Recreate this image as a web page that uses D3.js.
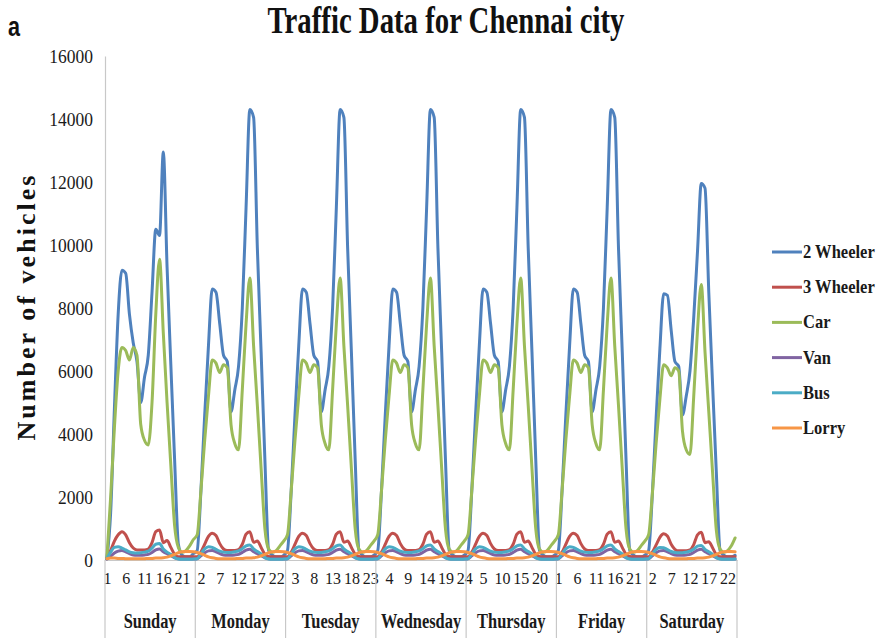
<!DOCTYPE html>
<html>
<head>
<meta charset="utf-8">
<script src="https://cdn.jsdelivr.net/npm/d3@7/dist/d3.min.js"></script>
<style>
	body { margin: 0; background: #fff; }
	svg { display: block; }
</style>
</head>
<body>
<div class="chart"></div>
<script>
// TRAFFIC DATA FOR CHENNAI CITY - hourly counts over one week

const days = ['Sunday', 'Monday', 'Tuesday', 'Wednesday', 'Thursday', 'Friday', 'Saturday'];
const hoursOfDay = [1, 2, 3, 4, 5, 6, 7, 8, 9, 10, 11, 12, 13, 14, 15, 16, 17, 18, 19, 20, 21, 22, 23, 24];
const seriesNames = ['2 Wheeler', '3 Wheeler', 'Car', 'Van', 'Bus', 'Lorry'];
const seriesColors = ['#4f81bd', '#c0504d', '#9bbb59', '#8064a2', '#4bacc6', '#f79646'];
const yTicks = [0, 2000, 4000, 6000, 8000, 10000, 12000, 14000, 16000];

// one row per day (Sunday .. Saturday), 24 hourly values each
const twoWheeler = [
	50, 1500, 4800, 7800, 9200, 9100, 7800, 6900, 6300, 5000, 5800, 6500, 8500, 10500, 10300, 12950, 9300, 6200, 3200, 500, 150, 100, 100, 200,
	300, 2200, 4600, 6800, 8600, 8500, 7500, 6500, 6300, 4700, 5400, 6150, 8000, 11200, 14300, 14050, 9900, 6600, 3200, 300, 150, 100, 100, 150,
	300, 2200, 4600, 6800, 8600, 8500, 7500, 6500, 6300, 4700, 5400, 6150, 8000, 11200, 14300, 14050, 9900, 6600, 3200, 300, 150, 100, 100, 150,
	300, 2200, 4600, 6800, 8600, 8500, 7500, 6500, 6300, 4700, 5400, 6150, 8000, 11200, 14300, 14050, 9900, 6600, 3200, 300, 150, 100, 100, 150,
	300, 2200, 4600, 6800, 8600, 8500, 7500, 6500, 6300, 4700, 5400, 6150, 8000, 11200, 14300, 14050, 9900, 6600, 3200, 300, 150, 100, 100, 150,
	300, 2200, 4600, 6800, 8600, 8500, 7500, 6500, 6300, 4700, 5400, 6150, 8000, 11200, 14300, 14050, 9900, 6600, 3200, 300, 150, 100, 100, 150,
	300, 2100, 4500, 6700, 8450, 8400, 7300, 6300, 6150, 4600, 5200, 6000, 7700, 9800, 11950, 11800, 8500, 5600, 2800, 300, 150, 100, 100, 150
];
const threeWheeler = [
	50, 300, 600, 800, 900, 800, 550, 380, 320, 320, 320, 350, 550, 900, 950, 550, 620, 400, 180, 100, 100, 100, 100, 100,
	100, 250, 500, 750, 850, 780, 520, 350, 300, 300, 300, 330, 500, 820, 900, 560, 600, 400, 180, 110, 100, 100, 100, 100,
	100, 250, 500, 750, 850, 780, 520, 350, 300, 300, 300, 330, 500, 820, 900, 560, 600, 400, 180, 110, 100, 100, 100, 100,
	100, 250, 500, 750, 850, 780, 520, 350, 300, 300, 300, 330, 500, 820, 900, 560, 600, 400, 180, 110, 100, 100, 100, 100,
	100, 250, 500, 750, 850, 780, 520, 350, 300, 300, 300, 330, 500, 820, 900, 560, 600, 400, 180, 110, 100, 100, 100, 100,
	100, 250, 500, 750, 850, 780, 520, 350, 300, 300, 300, 330, 500, 820, 900, 560, 600, 400, 180, 110, 100, 100, 100, 100,
	100, 250, 480, 720, 830, 760, 500, 340, 290, 290, 290, 320, 490, 800, 880, 550, 580, 390, 170, 100, 100, 100, 100, 100
];
const car = [
	50, 2000, 4200, 6000, 6750, 6650, 6350, 6750, 6500, 4300, 3800, 3650, 5000, 7800, 9550, 7200, 5000, 3000, 1100, 400, 250, 300, 450, 650,
	800, 2200, 3800, 5200, 6350, 6250, 5950, 6200, 6100, 4300, 3700, 3500, 5400, 7500, 8950, 6800, 4900, 2900, 1000, 350, 250, 300, 450, 600,
	800, 2200, 3800, 5200, 6350, 6250, 5950, 6200, 6100, 4300, 3700, 3500, 5400, 7500, 8950, 6800, 4900, 2900, 1000, 350, 250, 300, 450, 600,
	800, 2200, 3800, 5200, 6350, 6250, 5950, 6200, 6100, 4300, 3700, 3500, 5400, 7500, 8950, 6800, 4900, 2900, 1000, 350, 250, 300, 450, 600,
	800, 2200, 3800, 5200, 6350, 6250, 5950, 6200, 6100, 4300, 3700, 3500, 5400, 7500, 8950, 6800, 4900, 2900, 1000, 350, 250, 300, 450, 600,
	800, 2200, 3800, 5200, 6350, 6250, 5950, 6200, 6100, 4300, 3700, 3500, 5400, 7500, 8950, 6800, 4900, 2900, 1000, 350, 250, 300, 450, 600,
	800, 2100, 3700, 5100, 6200, 6100, 5850, 6100, 6000, 4100, 3500, 3350, 5200, 7300, 8750, 6600, 4700, 2800, 950, 350, 250, 300, 450, 700
];
const van = [
	30, 120, 220, 280, 300, 260, 200, 160, 150, 150, 160, 180, 240, 320, 350, 260, 200, 140, 70, 40, 30, 30, 30, 30,
	40, 130, 230, 290, 300, 260, 200, 160, 150, 150, 160, 180, 240, 310, 340, 260, 200, 140, 70, 40, 30, 30, 30, 30,
	40, 130, 230, 290, 300, 260, 200, 160, 150, 150, 160, 180, 240, 310, 340, 260, 200, 140, 70, 40, 30, 30, 30, 30,
	40, 130, 230, 290, 300, 260, 200, 160, 150, 150, 160, 180, 240, 310, 340, 260, 200, 140, 70, 40, 30, 30, 30, 30,
	40, 130, 230, 290, 300, 260, 200, 160, 150, 150, 160, 180, 240, 310, 340, 260, 200, 140, 70, 40, 30, 30, 30, 30,
	40, 130, 230, 290, 300, 260, 200, 160, 150, 150, 160, 180, 240, 310, 340, 260, 200, 140, 70, 40, 30, 30, 30, 30,
	40, 130, 230, 290, 300, 260, 200, 160, 150, 150, 160, 180, 240, 310, 340, 260, 200, 140, 70, 40, 30, 30, 30, 30
];
const bus = [
	40, 250, 400, 420, 380, 320, 260, 230, 220, 230, 250, 280, 380, 500, 520, 350, 250, 180, 80, 30, 20, 20, 20, 30,
	40, 200, 350, 420, 400, 340, 280, 250, 240, 240, 260, 290, 360, 450, 480, 350, 270, 190, 80, 30, 20, 20, 20, 30,
	40, 200, 350, 420, 400, 340, 280, 250, 240, 240, 260, 290, 360, 450, 480, 350, 270, 190, 80, 30, 20, 20, 20, 30,
	40, 200, 350, 420, 400, 340, 280, 250, 240, 240, 260, 290, 360, 450, 480, 350, 270, 190, 80, 30, 20, 20, 20, 30,
	40, 200, 350, 420, 400, 340, 280, 250, 240, 240, 260, 290, 360, 450, 480, 350, 270, 190, 80, 30, 20, 20, 20, 30,
	40, 200, 350, 420, 400, 340, 280, 250, 240, 240, 260, 290, 360, 450, 480, 350, 270, 190, 80, 30, 20, 20, 20, 30,
	40, 200, 340, 400, 390, 330, 270, 240, 230, 230, 250, 280, 350, 440, 460, 340, 260, 180, 80, 30, 20, 20, 20, 30
];
const lorry = [
	40, 60, 60, 50, 50, 40, 40, 40, 40, 40, 40, 50, 50, 60, 60, 70, 90, 130, 180, 230, 260, 270, 270, 260,
	240, 200, 150, 100, 70, 50, 40, 40, 40, 40, 40, 50, 50, 60, 60, 70, 90, 130, 180, 230, 260, 270, 270, 260,
	240, 200, 150, 100, 70, 50, 40, 40, 40, 40, 40, 50, 50, 60, 60, 70, 90, 130, 180, 230, 260, 270, 270, 260,
	240, 200, 150, 100, 70, 50, 40, 40, 40, 40, 40, 50, 50, 60, 60, 70, 90, 130, 180, 230, 260, 270, 270, 260,
	240, 200, 150, 100, 70, 50, 40, 40, 40, 40, 40, 50, 50, 60, 60, 70, 90, 130, 180, 230, 260, 270, 270, 260,
	240, 200, 150, 100, 70, 50, 40, 40, 40, 40, 40, 50, 50, 60, 60, 70, 90, 130, 180, 230, 260, 270, 270, 260,
	240, 200, 150, 100, 70, 50, 40, 40, 40, 40, 40, 50, 50, 60, 60, 70, 90, 130, 180, 230, 260, 270, 270, 260
];

const seriesValues = [twoWheeler, threeWheeler, car, van, bus, lorry];
const series = seriesNames.map((name, k) => ({ name, color: seriesColors[k], values: seriesValues[k] }));

// every point is one hour of the week
const categories = days.flatMap(() => hoursOfDay);
const index = categories.map((d, i) => i);

const margin = {
	top: 56,
	right: 150,
	bottom: 78,
	left: 105
};
const width = 887 - margin.left - margin.right;
const height = 638 - margin.top - margin.bottom;

const svg = d3.select('.chart')
	.append('svg')
		.attr('width', width + margin.left + margin.right)
		.attr('height', height + margin.top + margin.bottom);

const g = svg.append('g')
	.attr('transform', `translate(${margin.left}, ${margin.top})`);

const serif = '"Liberation Serif", "DejaVu Serif", serif';

// squeeze a text horizontally, the picture is stretched tall
function squeeze(sel, k) {
	sel.each(function() {
		const w = this.getComputedTextLength();
		d3.select(this)
			.attr('textLength', w * k)
			.attr('lengthAdjust', 'spacingAndGlyphs');
	});
}

// scales
const xScale = d3.scalePoint()
	.domain(index)
	.range([0, width])
	.padding(0.5);

const yScale = d3.scaleLinear()
	.domain([0, 16000])
	.range([height, 0]);

// y axis
const yAxis = d3.axisLeft(yScale)
	.tickValues(yTicks)
	.tickFormat(d3.format('d'))
	.tickSize(0)
	.tickPadding(12);

const yG = g.append('g').call(yAxis);
yG.select('.domain').attr('stroke', '#c8c8c8').attr('stroke-width', 1.2);
yG.selectAll('text')
	.style('font-family', serif)
	.style('font-size', '19px')
	.attr('fill', '#1a1a1a')
	.call(squeeze, 0.92);

// x axis, first level: hour of the day
const xAxis = d3.axisBottom(xScale)
	.tickValues(index.filter(i => i % 5 === 0))
	.tickFormat(i => categories[i])
	.tickSize(0)
	.tickPadding(13);

const xG = g.append('g')
	.attr('transform', `translate(0, ${height})`)
	.call(xAxis);
xG.select('.domain').attr('stroke', '#c8c8c8').attr('stroke-width', 1.2);
xG.selectAll('text')
	.style('font-family', serif)
	.style('font-size', '16px')
	.attr('fill', '#1a1a1a');

// x axis, second level: days with separators
const step = xScale.step();
const dayG = g.append('g')
	.attr('transform', `translate(0, ${height})`);

dayG.selectAll('.sep')
	.data(d3.range(days.length + 1))
	.enter()
	.append('line')
		.attr('class', 'sep')
		.attr('x1', d => d * 24 * step)
		.attr('x2', d => d * 24 * step)
		.attr('y1', 0)
		.attr('y2', margin.bottom)
		.attr('stroke', '#c8c8c8')
		.attr('stroke-width', 1.2);

dayG.selectAll('.day')
	.data(days)
	.enter()
	.append('text')
		.attr('class', 'day')
		.attr('x', (d, i) => (i + 0.5) * 24 * step)
		.attr('y', 68)
		.style('text-anchor', 'middle')
		.style('font-family', serif)
		.style('font-size', '20px')
		.style('font-weight', 'bold')
		.attr('fill', '#1a1a1a')
		.text(d => d)
		.call(squeeze, 0.82);

// lines
const line = d3.line()
	.x((d, i) => xScale(i))
	.y(d => yScale(d))
	.curve(d3.curveMonotoneX);

g.selectAll('.series')
	.data(series)
	.enter()
	.append('path')
		.attr('class', 'series')
		.attr('d', d => line(d.values))
		.attr('fill', 'none')
		.attr('stroke', d => d.color)
		.attr('stroke-width', 3)
		.attr('stroke-linejoin', 'round')
		.attr('stroke-linecap', 'round');

// legend
const legend = svg.append('g')
	.attr('transform', 'translate(772, 252)');

const items = legend.selectAll('.item')
	.data(series)
	.enter()
	.append('g')
		.attr('class', 'item')
		.attr('transform', (d, i) => `translate(0, ${i * 35.2})`);

items.append('line')
	.attr('x1', 0)
	.attr('x2', 30)
	.attr('stroke', d => d.color)
	.attr('stroke-width', 3);

items.append('text')
	.attr('x', 31)
	.attr('y', 6)
	.style('font-family', serif)
	.style('font-size', '19px')
	.style('font-weight', 'bold')
	.attr('fill', '#1a1a1a')
	.text(d => d.name)
	.call(squeeze, 0.87);

// titles
svg.append('text')
	.attr('x', 446)
	.attr('y', 33)
	.style('text-anchor', 'middle')
	.style('font-family', serif)
	.style('font-size', '38px')
	.style('font-weight', 'bold')
	.attr('fill', '#111')
	.attr('textLength', 357)
	.attr('lengthAdjust', 'spacingAndGlyphs')
	.text('Traffic Data for Chennai city');

svg.append('text')
	.attr('transform', 'translate(35, 308) rotate(-90)')
	.style('text-anchor', 'middle')
	.style('font-family', serif)
	.style('font-size', '26px')
	.style('font-weight', 'bold')
	.attr('fill', '#111')
	.attr('textLength', 265)
	.text('Number of vehicles');

svg.append('text')
	.attr('x', 8)
	.attr('y', 36)
	.style('font-family', '"Liberation Sans", Arial, sans-serif')
	.style('font-size', '27px')
	.style('font-weight', 'bold')
	.attr('fill', '#111')
	.text('a')
	.call(squeeze, 0.8);
</script>
</body>
</html>
